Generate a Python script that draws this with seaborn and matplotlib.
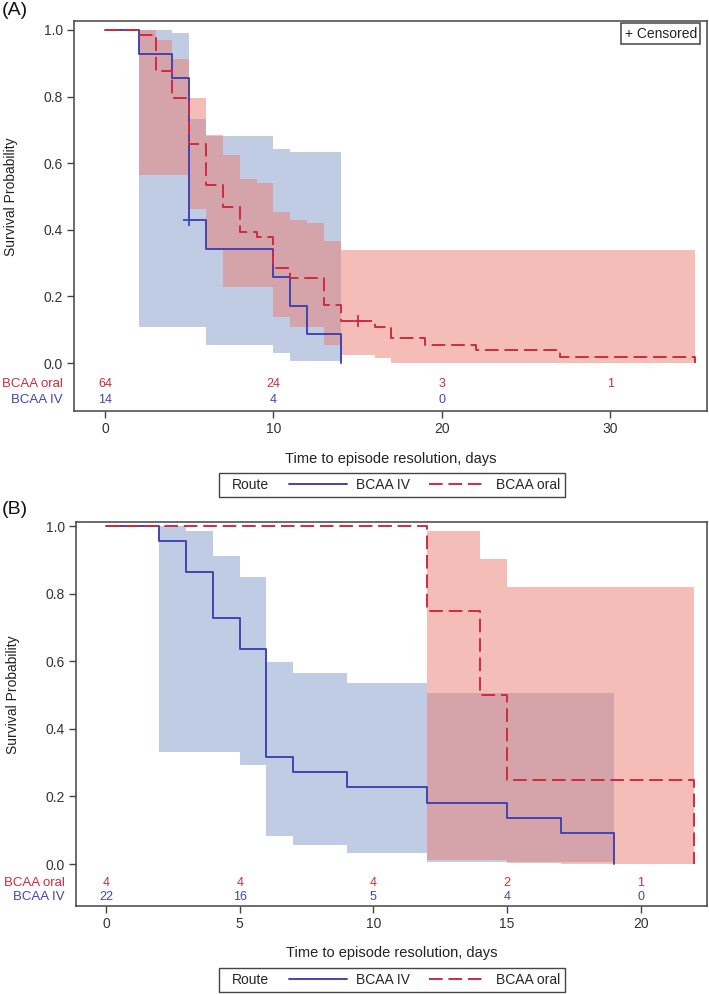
import matplotlib
matplotlib.use("Agg")
import matplotlib.pyplot as plt
import seaborn as sns
import pandas as pd
from matplotlib.lines import Line2D
from matplotlib.patches import Patch, Rectangle
from matplotlib.legend_handler import HandlerBase

# ---- Panel A data ----
a_iv_t = [0, 2, 4, 5, 6, 10, 11, 12, 14]
a_iv_s = [1.0, 0.929, 0.857, 0.429, 0.343, 0.257, 0.171, 0.086, 0.0]
a_oral_t = [0, 2, 3, 4, 5, 6, 7, 8, 9, 10, 11, 13, 14, 16, 17, 19, 22, 27, 35]
a_oral_s = [1.0, 0.984, 0.876, 0.797, 0.657, 0.534, 0.469, 0.394, 0.379, 0.284,
            0.254, 0.174, 0.126, 0.109, 0.076, 0.054, 0.039, 0.019, 0.0]
a_iv_cens_t, a_iv_cens_s = [5], [0.429]
a_oral_cens_t, a_oral_cens_s = [15], [0.126]

a_iv_band_t = [2, 4, 5, 6, 10, 11, 14]
a_iv_hi = [1.0, 0.99, 0.734, 0.681, 0.644, 0.634, 0.634]
a_iv_lo = [0.107, 0.107, 0.107, 0.054, 0.030, 0.007, 0.007]
a_oral_band_t = [2, 3, 4, 5, 6, 7, 8, 9, 10, 11, 12, 13, 14, 16, 17, 35]
a_oral_hi = [1.0, 0.969, 0.914, 0.797, 0.684, 0.626, 0.554, 0.541, 0.454, 0.429,
             0.419, 0.367, 0.339, 0.339, 0.339, 0.339]
a_oral_lo = [0.564, 0.564, 0.564, 0.464, 0.344, 0.229, 0.229, 0.229, 0.139, 0.109,
             0.109, 0.054, 0.024, 0.014, 0.0, 0.0]

a_ticks = [0, 10, 20, 30]
a_risk_oral_t = [0, 10, 20, 30]
a_risk_oral = [64, 24, 3, 1]
a_risk_iv_t = [0, 10, 20]
a_risk_iv = [14, 4, 0]

# ---- Panel B data ----
b_iv_t = [0, 2, 3, 4, 5, 6, 7, 9, 12, 15, 17, 19]
b_iv_s = [1.0, 0.955, 0.864, 0.727, 0.636, 0.318, 0.273, 0.227, 0.182, 0.136, 0.091, 0.0]
b_oral_t = [0, 12, 14, 15, 22]
b_oral_s = [1.0, 0.75, 0.5, 0.25, 0.0]

b_iv_band_t = [2, 3, 4, 5, 6, 7, 9, 12, 19]
b_iv_hi = [1.0, 0.985, 0.912, 0.848, 0.597, 0.564, 0.536, 0.505, 0.505]
b_iv_lo = [0.332, 0.332, 0.332, 0.292, 0.083, 0.056, 0.033, 0.005, 0.005]
b_oral_band_t = [12, 14, 15, 17, 22]
b_oral_hi = [0.985, 0.902, 0.819, 0.819, 0.819]
b_oral_lo = [0.012, 0.012, 0.004, 0.0, 0.0]

b_ticks = [0, 5, 10, 15, 20]
b_risk_oral_t = [0, 5, 10, 15, 20]
b_risk_oral = [4, 4, 4, 2, 1]
b_risk_iv_t = [0, 5, 10, 15, 20]
b_risk_iv = [22, 16, 5, 4, 0]

BLUE = "#4444b2"
RED = "#cf2a40"
BLUE_FILL = "#839bc9"
RED_FILL = "#eb7d73"
FRAME = "#444444"
DASH = (0, (7, 3))

sns.set_theme(style="ticks")
plt.rcParams["font.family"] = ["Liberation Sans", "DejaVu Sans"]


class HandlerBlank(HandlerBase):
    # zero-width handle so "Route" sits at the left like a title
    def create_artists(self, legend, orig_handle, xdescent, ydescent, width, height, fontsize, trans):
        return [Rectangle((0, 0), 0, 0, visible=False)]

    def legend_artist(self, legend, orig_handle, fontsize, handlebox):
        handlebox.width = 0
        return super().legend_artist(legend, orig_handle, fontsize, handlebox)


def km_panel(ax, iv_t, iv_s, oral_t, oral_s, iv_bt, iv_hi, iv_lo, or_bt, or_hi, or_lo,
             ticks, xlim, ylim, r_oral_t, r_oral, r_iv_t, r_iv, y_oral, y_iv):
    ax.fill_between(iv_bt, iv_lo, iv_hi, step="post", color=BLUE_FILL, alpha=0.5, linewidth=0)
    ax.fill_between(or_bt, or_lo, or_hi, step="post", color=RED_FILL, alpha=0.5, linewidth=0)

    df_iv = pd.DataFrame({"t": iv_t, "s": iv_s})
    df_or = pd.DataFrame({"t": oral_t, "s": oral_s})
    sns.lineplot(data=df_iv, x="t", y="s", ax=ax, color=BLUE, lw=1.4,
                 drawstyle="steps-post", estimator=None)
    sns.lineplot(data=df_or, x="t", y="s", ax=ax, color=RED, lw=1.4,
                 drawstyle="steps-post", estimator=None, linestyle=DASH)

    ax.set_xlim(*xlim)
    ax.set_ylim(*ylim)
    ax.set_xticks(ticks)
    ax.set_yticks([0, 0.2, 0.4, 0.6, 0.8, 1.0])
    ax.set_yticklabels(["0.0", "0.2", "0.4", "0.6", "0.8", "1.0"])
    ax.tick_params(axis="both", length=5, width=1, color=FRAME, labelsize=10,
                   labelcolor="#333333", pad=3)
    for sp in ax.spines.values():
        sp.set_visible(True)
        sp.set_color(FRAME)
        sp.set_linewidth(1.1)

    ax.set_xlabel("Time to episode resolution, days", fontsize=10.5, color="#222222")
    ax.set_ylabel("Survival Probability", fontsize=10, color="#222222")
    ax.xaxis.set_label_coords(0.5, -0.105)
    ax.yaxis.set_label_coords(-0.088, (0.5 - ylim[0]) / (ylim[1] - ylim[0]))

    # number at risk rows
    for t, n in zip(r_oral_t, r_oral):
        ax.text(t, y_oral, str(n), color=RED, fontsize=9, ha="center", va="center")
    for t, n in zip(r_iv_t, r_iv):
        ax.text(t, y_iv, str(n), color=BLUE, fontsize=9, ha="center", va="center")
    tr = ax.get_yaxis_transform()
    ax.text(-0.018, y_oral, "BCAA oral", color=RED, fontsize=9.5, ha="right", va="center",
            transform=tr)
    ax.text(-0.018, y_iv, "BCAA IV", color=BLUE, fontsize=9.5, ha="right", va="center",
            transform=tr)


fig = plt.figure(figsize=(7.09, 9.94), dpi=100)
ax_a = fig.add_axes([0.10437, 0.58652, 0.89281, 0.39235])
ax_b = fig.add_axes([0.10719, 0.08853, 0.88999, 0.38632])

km_panel(ax_a, a_iv_t, a_iv_s, a_oral_t, a_oral_s,
         a_iv_band_t, a_iv_hi, a_iv_lo, a_oral_band_t, a_oral_hi, a_oral_lo,
         a_ticks, (-1.84, 35.73), (-0.144, 1.027),
         a_risk_oral_t, a_risk_oral, a_risk_iv_t, a_risk_iv, -0.063, -0.111)
sns.scatterplot(x=a_iv_cens_t, y=a_iv_cens_s, ax=ax_a, marker="+", s=70, color=BLUE, linewidth=1.3)
sns.scatterplot(x=a_oral_cens_t, y=a_oral_cens_s, ax=ax_a, marker="+", s=70, color=RED, linewidth=1.3)
ax_a.text(0.984, 0.985, "+ Censored", transform=ax_a.transAxes, ha="right", va="top",
          fontsize=10, color="#222222",
          bbox=dict(boxstyle="square,pad=0.25", fc="white", ec=FRAME, lw=1.1))

km_panel(ax_b, b_iv_t, b_iv_s, b_oral_t, b_oral_s,
         b_iv_band_t, b_iv_hi, b_iv_lo, b_oral_band_t, b_oral_hi, b_oral_lo,
         b_ticks, (-1.12, 22.47), (-0.124, 1.012),
         b_risk_oral_t, b_risk_oral, b_risk_iv_t, b_risk_iv, -0.056, -0.098)

fig.text(0.003, 0.989, "(A)", fontsize=14, ha="left", va="center", color="#111111")
fig.text(0.003, 1 - 510 / 994, "(B)", fontsize=14, ha="left", va="center", color="#111111")

blank = Patch(visible=False)
h_iv = Line2D([], [], color=BLUE, lw=1.4)
h_or = Line2D([], [], color=RED, lw=1.4, linestyle=DASH)
for yc in (1 - 485 / 994, 1 - 980 / 994):
    fig.legend(handles=[blank, h_iv, h_or], labels=["Route", "BCAA IV", "BCAA oral"],
               handler_map={blank: HandlerBlank()}, ncol=3, loc="center",
               bbox_to_anchor=(392 / 709, yc), frameon=True, fancybox=False,
               edgecolor=FRAME, framealpha=1, fontsize=10, handlelength=4.2,
               handletextpad=0.6, columnspacing=1.4, borderpad=0.35)

fig.savefig("out.png", dpi=100)
